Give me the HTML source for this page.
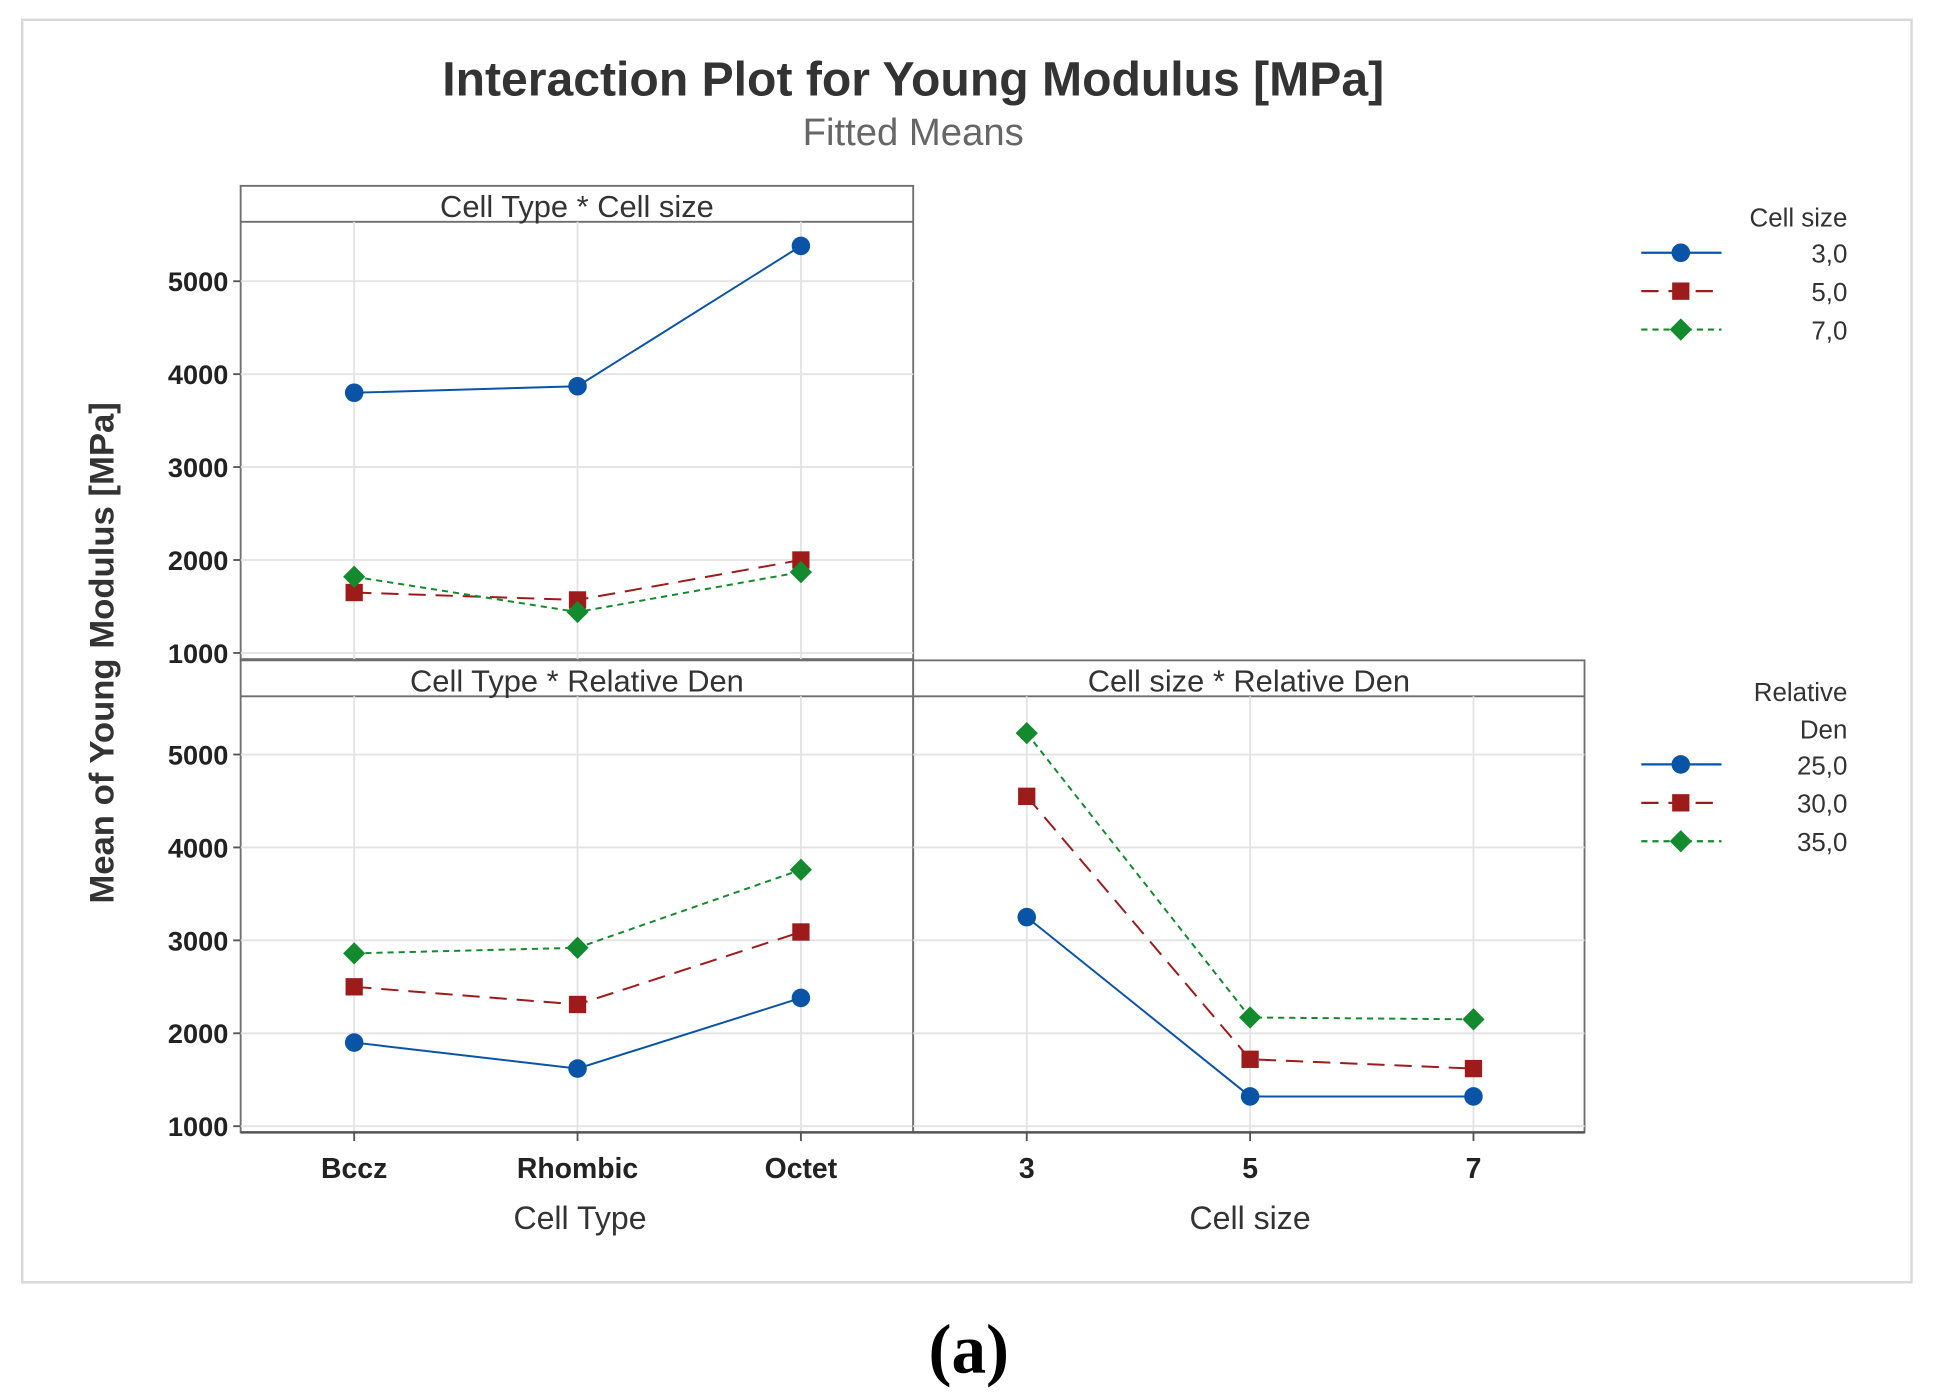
<!DOCTYPE html>
<html><head><meta charset="utf-8"><style>
html,body{margin:0;padding:0;background:#fff;}
svg{display:block;font-family:"Liberation Sans",sans-serif;}
</style></head><body>
<svg id="chart" width="1935" height="1400" viewBox="0 0 1568 1130" preserveAspectRatio="none">
<rect x="18" y="16" width="1531" height="1019" fill="#fff" stroke="#d9d9d9" stroke-width="2"/>
<text x="740" y="77" text-anchor="middle" font-size="39" font-weight="bold" fill="#333">Interaction Plot for Young Modulus [MPa]</text>
<text x="740" y="117" text-anchor="middle" font-size="31" fill="#666">Fitted Means</text>
<text transform="translate(92,527) rotate(-90)" text-anchor="middle" font-size="28" font-weight="bold" fill="#333">Mean of Young Modulus [MPa]</text>
<text x="785" y="1108" text-anchor="middle" font-size="56" font-weight="bold" font-family="Liberation Serif,serif" fill="#000">(a)</text>
<g id="plots"></g>
</svg>
<script>
const cellTypes = ["Bccz","Rhombic","Octet"];
const cellSizes = ["3","5","7"];
const yTicks = [1000,2000,3000,4000,5000];
const csLevels = ["3,0","5,0","7,0"];
const rdLevels = ["25,0","30,0","35,0"];
// Cell Type * Cell size
const ctcs3 = [3800,3870,5380];
const ctcs5 = [1650,1570,2000];
const ctcs7 = [1820,1440,1870];
// Cell Type * Relative Den
const ctrd25 = [1900,1620,2380];
const ctrd30 = [2500,2310,3090];
const ctrd35 = [2860,2920,3760];
// Cell size * Relative Den
const csrd25 = [3250,1320,1320];
const csrd30 = [4550,1720,1620];
const csrd35 = [5230,2170,2150];

const NS="http://www.w3.org/2000/svg";
const root=document.getElementById('plots');
function mk(tag,attrs,parent,txt){const e=document.createElementNS(NS,tag);for(const k in attrs)e.setAttribute(k,attrs[k]);if(txt!==undefined)e.textContent=txt;(parent||root).appendChild(e);return e;}
const styles=[{c:"#0a54a8",dash:"",m:"circle"},{c:"#9e1b1b",dash:"14,8",m:"square"},{c:"#148a2e",dash:"5,4",m:"diamond"}];
function marker(g,m,x,y,c){
  let e;
  if(m==="circle")e=mk('circle',{cx:x,cy:y,r:7.5,fill:c},g);
  else if(m==="square")e=mk('rect',{x:x-7,y:y-7,width:14,height:14,fill:c},g);
  else e=mk('polygon',{points:`${x},${y-9} ${x+9},${y} ${x},${y+9} ${x-9},${y}`,fill:c},g);
  return e;
}
function panel(name,x0,x1,top,bottom,title,xs,series,showY){
  const g=mk('g',{});
  
  
  const plotTop=top+29;
  const y1000=bottom-5;
  const yScale=v=>y1000-(v-1000)*0.075;
  const xScale=i=>x0+92+i*181;
  const bg=mk('rect',{x:x0,y:top,width:x1-x0,height:bottom-top,fill:"#fff",stroke:"#6e6e6e","stroke-width":1.5},g);
  
  
  mk('line',{x1:x0,x2:x1,y1:plotTop,y2:plotTop,stroke:"#6e6e6e","stroke-width":1.5},g);
  const ht=mk('text',{x:(x0+x1)/2,y:top+25,"text-anchor":"middle","font-size":25,fill:"#333"},g,title);
  
  
  xs.forEach((c,i)=>{mk('line',{x1:xScale(i),x2:xScale(i),y1:plotTop,y2:bottom,stroke:"#e3e3e3","stroke-width":1.5},g);});
  yTicks.forEach(v=>{
    mk('line',{x1:x0,x2:x1,y1:yScale(v),y2:yScale(v),stroke:"#e3e3e3","stroke-width":1.5},g);
    if(showY){
      mk('line',{x1:x0-6,x2:x0,y1:yScale(v),y2:yScale(v),stroke:"#555","stroke-width":1.5},g);
      const t=mk('text',{x:x0-10,y:yScale(v)+8,"text-anchor":"end","font-size":22,"font-weight":"bold",fill:"#222"},g,String(v));
      
      
    }
  });
  series.forEach((vals,si)=>{
    const s=styles[si];
    const pts=vals.map((v,i)=>xScale(i)+","+yScale(v)).join(" ");
    const pl=mk('polyline',{points:pts,fill:"none",stroke:s.c,"stroke-width":1.6,"stroke-dasharray":s.dash},g);
    
    
    vals.forEach((v,i)=>{
      const mm=marker(g,s.m,xScale(i),yScale(v),s.c);
      
      
    });
  });
  return {xScale};
}
panel('panel-celltype-cellsize',195,740,150,532,"Cell Type * Cell size",cellTypes,[ctcs3,ctcs5,ctcs7],true);
const p2=panel('panel-celltype-relden',195,740,533,914,"Cell Type * Relative Den",cellTypes,[ctrd25,ctrd30,ctrd35],true);
const p3=panel('panel-cellsize-relden',740,1284,533,914,"Cell size * Relative Den",cellSizes,[csrd25,csrd30,csrd35],false);
mk('line',{x1:195,x2:1284,y1:914,y2:914,stroke:"#555","stroke-width":2});
function xlabels(p,cats){cats.forEach((c,i)=>{
  mk('line',{x1:p.xScale(i),x2:p.xScale(i),y1:914,y2:921,stroke:"#555","stroke-width":1.5});
  const t=mk('text',{x:p.xScale(i),y:951,"text-anchor":"middle","font-size":23,"font-weight":"bold",fill:"#222"},root,c);
  
  
});}
xlabels(p2,cellTypes);xlabels(p3,cellSizes);
const xt1=mk('text',{x:470,y:992,"text-anchor":"middle","font-size":26,fill:"#333"},root,"Cell Type");


const xt2=mk('text',{x:1013,y:992,"text-anchor":"middle","font-size":26,fill:"#333"},root,"Cell size");


function legend(name,titles,ty,levels,ey){
  const g=mk('g',{});
  
  
  titles.forEach((t,i)=>mk('text',{x:1497,y:ty+i*30+7,"text-anchor":"end","font-size":21,fill:"#333"},g,t));
  levels.forEach((l,i)=>{
    const y=ey+i*31,s=styles[i];
    const e=mk('g',{},g);
    
    
    mk('line',{x1:1330,x2:1395,y1:y,y2:y,stroke:s.c,"stroke-width":1.8,"stroke-dasharray":s.dash},e);
    marker(e,s.m,1362,y,s.c);
    mk('text',{x:1497,y:y+8,"text-anchor":"end","font-size":21,fill:"#333"},e,l);
  });
}
legend('legend-cell-size',["Cell size"],176,csLevels,204);
legend('legend-relative-den',["Relative","Den"],559,rdLevels,617);
</script>
</body></html>
